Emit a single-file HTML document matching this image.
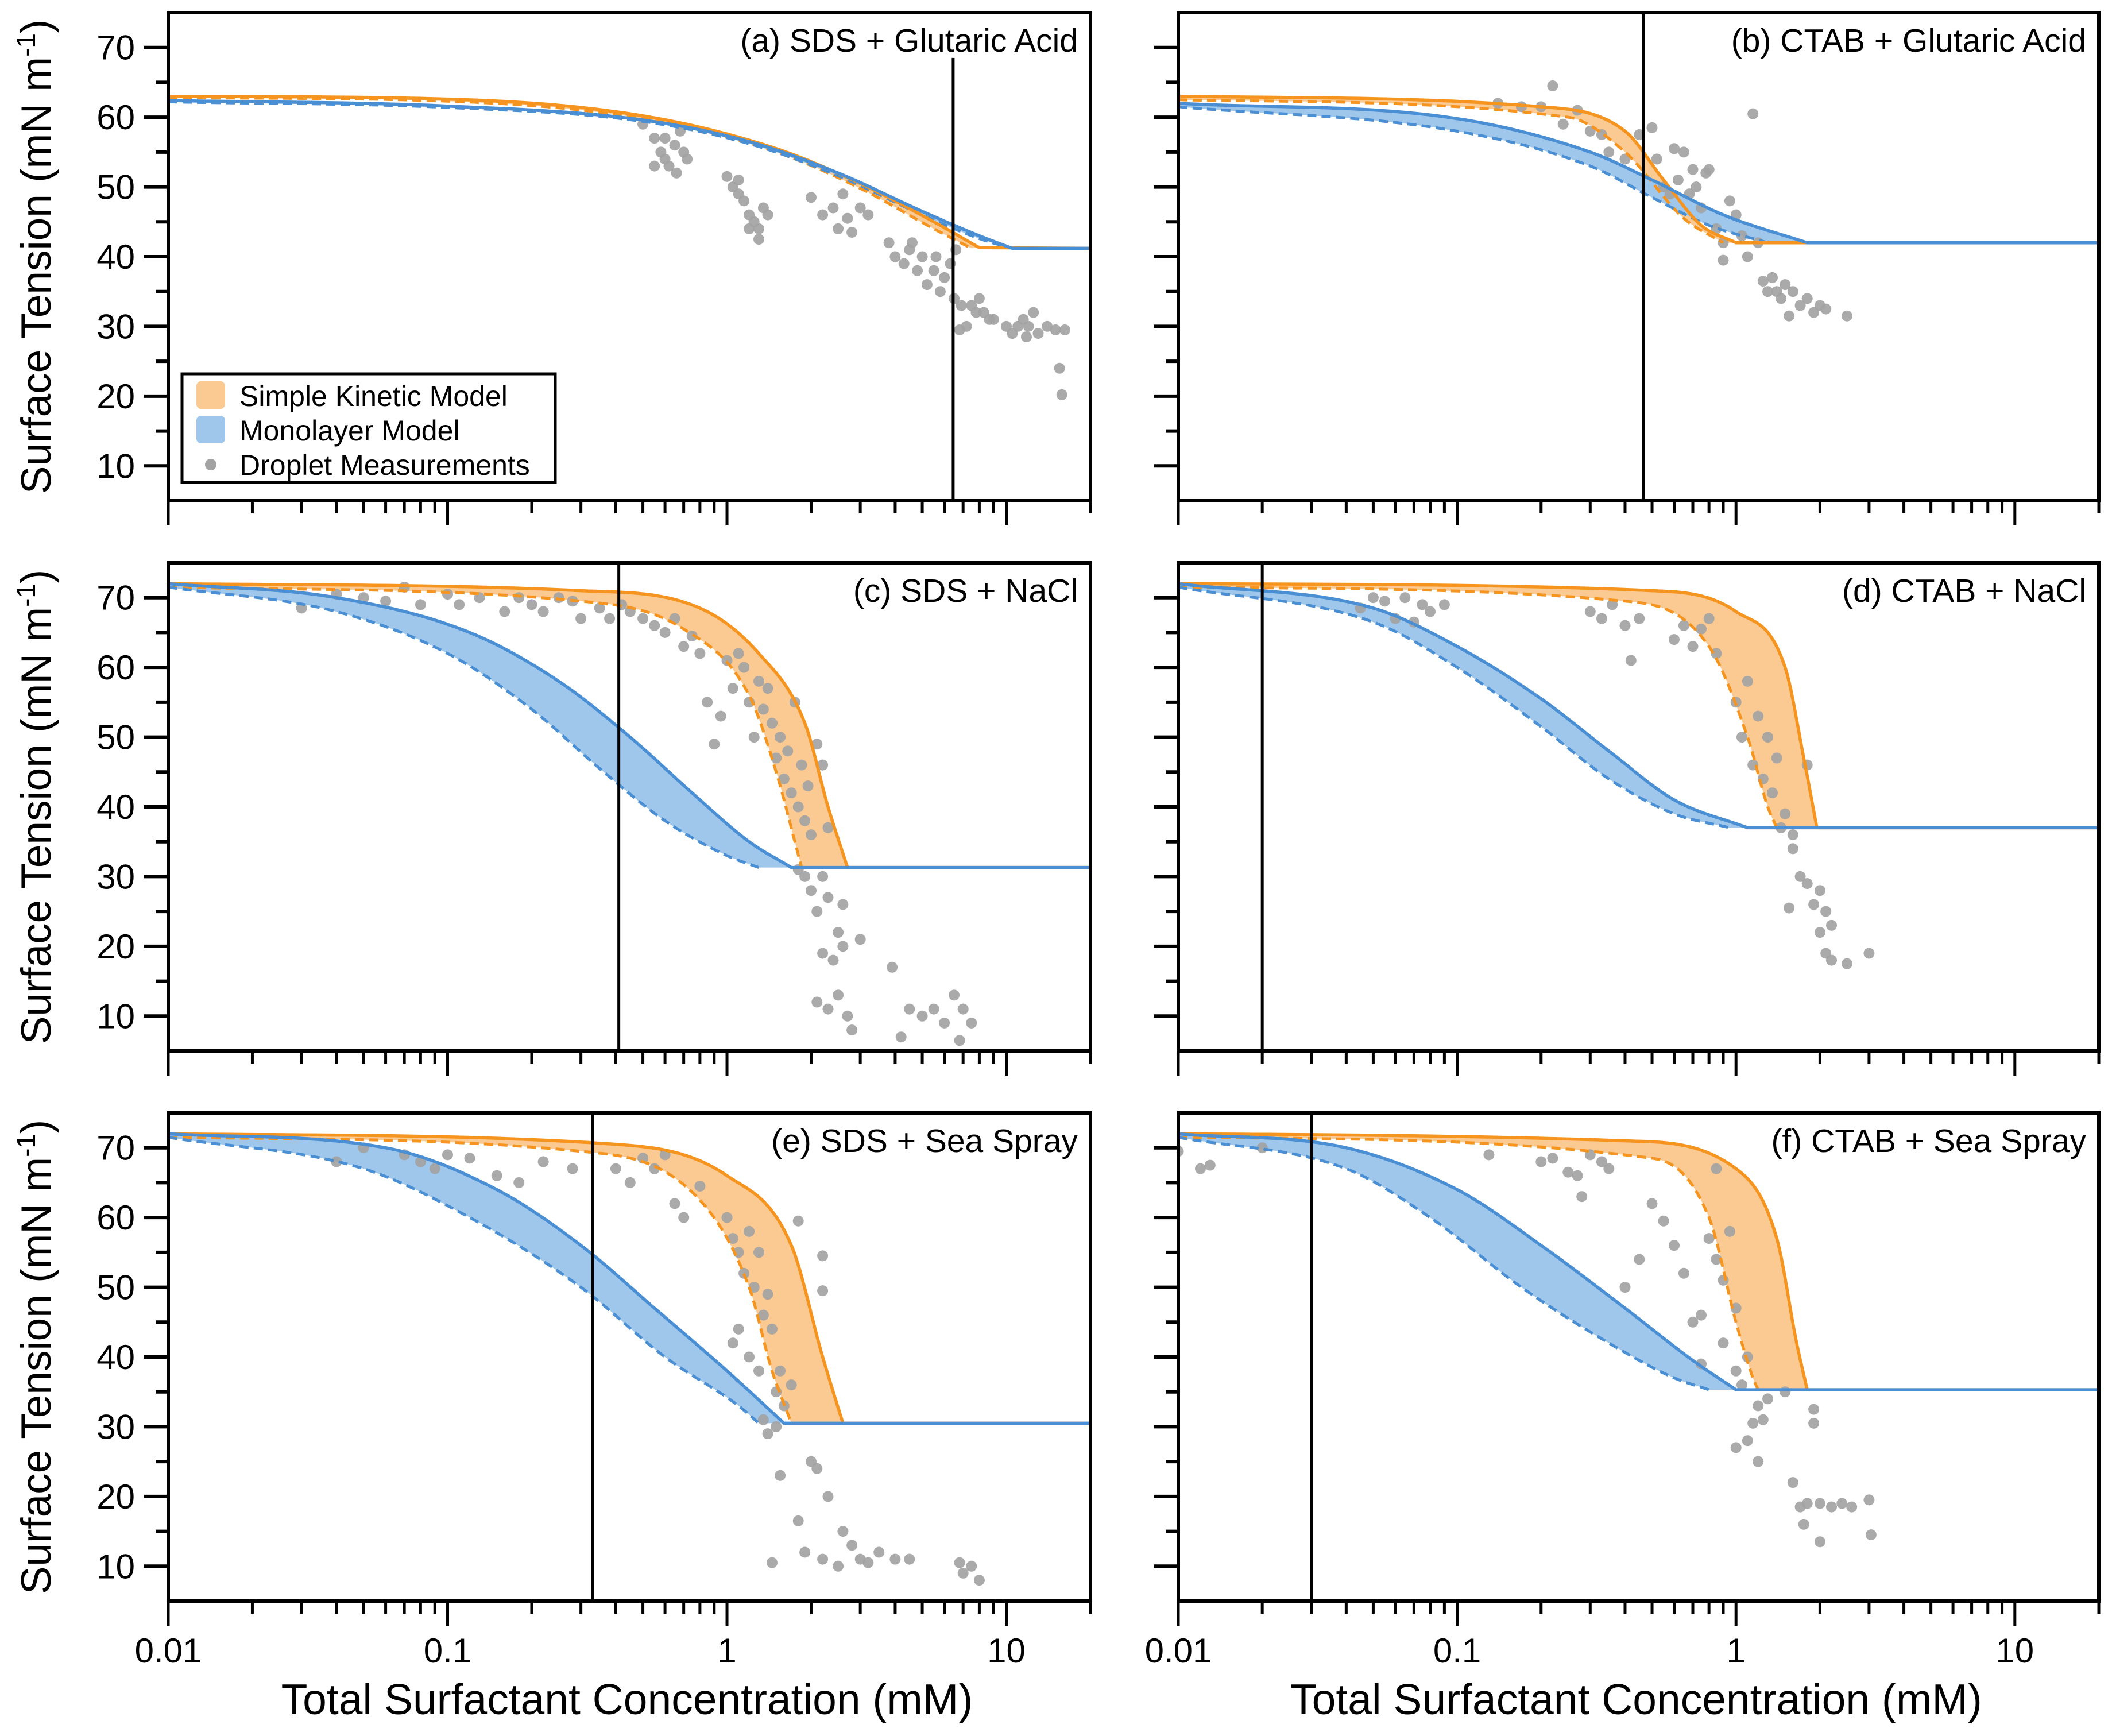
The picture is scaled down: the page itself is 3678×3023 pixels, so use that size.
<!DOCTYPE html>
<html><head><meta charset="utf-8"><style>
html,body{margin:0;padding:0;background:#fff;}
svg text{font-family:"Liberation Sans",Arial,sans-serif;}
</style></head><body>
<svg id="fig" xmlns="http://www.w3.org/2000/svg" width="3678" height="3018" viewBox="0 0 3678 3018"></svg>
<script>
// ---------- data (concentration mM, surface tension mN/m) ----------
const panelTitles = ["(a) SDS + Glutaric Acid","(b) CTAB + Glutaric Acid","(c) SDS + NaCl","(d) CTAB + NaCl","(e) SDS + Sea Spray","(f) CTAB + Sea Spray"];
const verticalLines = [6.45, 0.465, 0.41, 0.02, 0.33, 0.03];
const plateaus = [41.2, 42, 31.3, 37, 30.5, 35.3];
const orangeSolid = [
 [[0.01,63],[0.1,62.6],[0.5,60.2],[1.5,55.5],[3,50.5],[5.5,45],[8,41.3]],
 [[0.01,63],[0.2,61.5],[0.4,58],[0.55,51],[0.75,44.5],[1.0,42]],
 [[0.01,72],[0.3,71],[0.8,68.5],[1.3,62],[1.9,52],[2.3,40],[2.7,31.3]],
 [[0.01,72],[0.5,71],[1.0,68],[1.5,60],[1.75,47],[1.95,37]],
 [[0.01,72],[0.4,70.5],[1.0,66],[1.7,56],[2.2,40],[2.6,30.5]],
 [[0.01,72],[0.4,71],[1.0,67],[1.4,57],[1.65,42],[1.8,35.3]]
];
const orangeDashed = [
 [[0.01,62.8],[0.1,62.3],[0.5,59.8],[1.5,55],[3,49.8],[5.5,44],[7.5,41.2]],
 [[0.01,62.5],[0.25,60],[0.4,55],[0.65,45.5],[0.9,42]],
 [[0.01,71.5],[0.3,69.5],[0.7,65.5],[1.2,56],[1.5,45],[1.75,35],[1.85,31.3]],
 [[0.01,71.5],[0.4,69.5],[0.8,63],[1.1,50],[1.3,40],[1.4,37]],
 [[0.01,71.5],[0.3,69.5],[0.8,62.5],[1.2,50],[1.45,38],[1.7,30.5]],
 [[0.01,71.5],[0.5,68.5],[0.8,60],[1.0,45],[1.15,37],[1.2,35.3]]
];
const blueSolid = [
 [[0.01,62.4],[0.1,61.6],[0.5,59.6],[1.2,56.5],[2.5,52],[5,46.5],[8,43],[10.5,41.2]],
 [[0.01,62],[0.1,59.8],[0.3,55],[0.5,51],[0.9,46],[1.8,42]],
 [[0.01,72],[0.04,70],[0.12,65],[0.25,58],[0.45,50],[0.75,42],[1.2,35],[1.7,31.3]],
 [[0.01,72],[0.05,68.5],[0.1,63],[0.2,55.5],[0.35,48],[0.6,41],[1.1,37]],
 [[0.01,72],[0.06,70],[0.15,64],[0.3,56],[0.55,47],[1.0,38],[1.6,30.5]],
 [[0.01,72],[0.04,70],[0.1,64],[0.2,56],[0.4,47],[0.7,39.5],[1.0,35.3]]
];
const blueDashed = [
 [[0.01,62.2],[0.1,61.4],[0.5,59.4],[1.2,56.2],[2.5,51.6],[5,46],[8,42.6],[10.5,41.2]],
 [[0.01,61.5],[0.1,58],[0.3,53],[0.5,48.5],[0.8,44.5],[1.3,42]],
 [[0.01,71.5],[0.04,68],[0.1,62],[0.2,54],[0.35,45.5],[0.6,38],[1.0,33],[1.3,31.3]],
 [[0.01,71.5],[0.05,66.5],[0.1,60],[0.2,51.5],[0.35,44],[0.6,39],[0.95,37]],
 [[0.01,71.5],[0.05,67],[0.12,60],[0.3,50],[0.6,40],[1.1,33],[1.3,30.5]],
 [[0.01,71.5],[0.04,67],[0.08,60],[0.17,50],[0.35,42],[0.6,37],[0.8,35.3]]
];
const scatterPoints = [
 [[0.5,59],[0.55,57],[0.58,55],[0.6,54],[0.62,53],[0.65,56],[0.66,52],[0.68,58],[0.7,55],[0.72,54],[0.55,53],[0.6,57],
  [1.0,51.5],[1.05,50],[1.1,51],[1.15,48],[1.2,46],[1.25,45],[1.3,44],[1.3,42.5],[1.35,47],[1.4,46],[1.2,44],[1.1,49],
  [2.0,48.5],[2.2,46],[2.4,47],[2.5,44],[2.7,45.5],[2.8,43.5],[3.0,47],[3.2,46],[2.6,49],
  [3.8,42],[4.0,40],[4.3,39],[4.5,41],[4.8,38],[5.0,40],[5.2,36],[5.5,38],[5.8,35],[6.0,37],[4.6,42],[5.6,40],[6.3,39],[6.6,41],
  [6.5,34],[6.9,33],[7.2,30],[7.5,33],[8,34],[8.3,32],[8.7,31],[9,31],[6.8,29.5],[7.8,32],
  [10,30],[10.5,29],[11,30],[11.5,31],[12,30],[12.5,32],[13,29],[14,30],[15,29.5],[11.8,28.5],[15.5,24],[15.8,20.2],[16.2,29.5]],
 [[0.14,62],[0.17,61.5],[0.2,61.5],[0.22,64.5],[0.24,59],[0.27,61],[0.3,58],[0.33,57.5],[0.35,55],[0.4,54],[0.45,57.5],
  [0.5,58.5],[0.52,54],[0.55,50],[0.58,49],[0.6,55.5],[0.62,51],[0.65,55],[0.68,49],[0.7,52.5],[0.72,50],[0.75,47],[0.78,52],[0.8,52.5],
  [0.85,44],[0.9,42],[0.95,48],[1.0,46],[1.05,43],[1.1,40],[1.15,60.5],[0.9,39.5],[1.2,42],
  [1.25,36.5],[1.3,35],[1.35,37],[1.4,35],[1.45,34],[1.5,36],[1.55,31.5],[1.6,35],[1.7,33],[1.8,34],[1.9,32],[2.0,33],[2.1,32.5],[2.5,31.5]],
 [[0.03,68.5],[0.04,70.5],[0.05,70],[0.06,69.5],[0.07,71.5],[0.08,69],[0.1,70.5],[0.11,69],[0.13,70],[0.16,68],[0.18,70],[0.2,69],[0.22,68],[0.25,70],[0.28,69.5],
  [0.3,67],[0.35,68.5],[0.38,67],[0.42,69],[0.45,68],[0.5,67],[0.55,66],[0.6,65],[0.65,67],[0.7,63],[0.75,64.5],[0.8,62],
  [0.85,55],[0.9,49],[0.95,53],[1.0,61],[1.05,57],[1.1,62],[1.15,60],[1.2,55],[1.25,50],[1.3,58],[1.35,54],[1.4,57],[1.45,52],[1.5,47],
  [1.55,50],[1.6,44],[1.65,48],[1.7,42],[1.75,55],[1.8,40],[1.85,46],[1.9,38],[1.95,43],[2.0,36],[2.1,49],[2.2,46],[2.3,37],
  [1.8,31],[1.9,30],[2.0,28],[2.1,25],[2.2,30],[2.3,27],[2.5,22],[2.6,26],[2.2,19],[2.4,18],[2.6,20],
  [2.1,12],[2.3,11],[2.5,13],[2.7,10],[2.8,8],[3.0,21],[3.9,17],[4.2,7],[4.5,11],[5.0,10],[5.5,11],[6.0,9],[6.5,13],[7.0,11],[6.8,6.5],[7.5,9]],
 [[0.045,68.5],[0.05,70],[0.055,69.5],[0.06,67],[0.065,70],[0.07,66.5],[0.075,69],[0.08,68],[0.09,69],
  [0.3,68],[0.33,67],[0.36,69],[0.4,66],[0.42,61],[0.45,67],[0.6,64],[0.65,66],[0.7,63],[0.75,65.5],[0.8,67],[0.85,62],
  [1.0,55],[1.05,50],[1.1,58],[1.15,46],[1.2,53],[1.25,44],[1.3,50],[1.35,42],[1.4,47],[1.45,37],[1.5,39],[1.6,36],[1.8,46],
  [1.6,34],[1.7,30],[1.8,29],[1.9,26],[2.0,28],[2.1,25],[1.55,25.5],[2.0,22],[2.1,19],[2.2,18],[2.5,17.5],[3.0,19],[2.2,23]],
 [[0.04,68],[0.05,70],[0.07,69],[0.08,68],[0.09,67],[0.1,69],[0.12,68.5],[0.15,66],[0.18,65],[0.22,68],[0.28,67],
  [0.4,67],[0.45,65],[0.5,68.5],[0.55,67],[0.6,69],[0.65,62],[0.7,60],[0.8,64.5],
  [1.0,60],[1.05,57],[1.1,55],[1.15,52],[1.2,58],[1.25,50],[1.3,55],[1.35,46],[1.4,49],[1.1,44],[1.05,42],[1.2,40],[1.3,38],
  [1.45,44],[1.5,35],[1.55,38],[1.6,33],[1.7,36],[1.8,59.5],[2.2,54.5],[2.2,49.5],[1.35,31],[1.4,29],[1.5,30],[1.55,23],[1.45,10.5],
  [1.8,16.5],[2.0,25],[2.1,24],[2.3,20],[1.9,12],[2.2,11],[2.5,10],[2.6,15],[2.8,13],[3.0,11],[3.2,10.5],[3.5,12],[4.0,11],[4.5,11],[6.8,10.5],[7.0,9],[7.5,10],[8.0,8]],
 [[0.01,69.5],[0.012,67],[0.013,67.5],[0.02,70],[0.13,69],[0.2,68],[0.22,68.5],[0.25,66.5],[0.27,66],[0.28,63],[0.3,69],[0.33,68],[0.35,67],
  [0.4,50],[0.45,54],[0.5,62],[0.55,59.5],[0.6,56],[0.65,52],[0.7,45],[0.75,46],[0.8,57],[0.85,67],[0.85,54],[0.9,51],[0.95,58],[1.0,47],[0.75,39],
  [0.9,42],[1.0,38],[1.05,36],[1.1,40],[1.15,30.5],[1.2,33],[1.25,31],[1.0,27],[1.1,28],[1.2,25],[1.3,34],[1.5,35],[1.6,22],
  [1.7,18.5],[1.75,16],[1.8,19],[1.9,30.5],[2.0,13.5],[1.9,32.5],[2.0,19],[2.2,18.5],[2.4,19],[2.6,18.5],[3.0,19.5],[3.05,14.5]]
];
const yTicks = [10,20,30,40,50,60,70];
const xTickLabels = ["0.01","0.1","1","10"];
const xTickValues = [0.01,0.1,1,10];

// ---------- layout ----------
const NS="http://www.w3.org/2000/svg";
const svg=document.getElementById('fig');
const colL=[293,2052], colW=[1606,1603];
const rowT=[22,980,1938], rowH=850;
const X0=0.01, X1=20, Y0=5, Y1=75;
const OR="#F5951F", ORF="#FBC992", BL="#4A8FD3", BLF="#9FC7EC";
function el(tag,attrs,parent){const e=document.createElementNS(NS,tag);for(const k in attrs)e.setAttribute(k,attrs[k]);(parent||svg).appendChild(e);return e;}
function smooth(data,xs,ys){
  const X=data.map(q=>Math.log10(q[0])), Y=data.map(q=>q[1]); const n=X.length;
  if(n<2) return data.map(q=>[xs(q[0]),ys(q[1])]);
  const d=[],m=new Array(n);
  for(let i=0;i<n-1;i++) d.push((Y[i+1]-Y[i])/(X[i+1]-X[i]));
  m[0]=d[0]; m[n-1]=d[n-2];
  for(let i=1;i<n-1;i++) m[i]=(d[i-1]*d[i]<=0)?0:(d[i-1]+d[i])/2;
  for(let i=0;i<n-1;i++){
    if(d[i]===0){m[i]=0;m[i+1]=0;continue;}
    const a=m[i]/d[i], b=m[i+1]/d[i], s=a*a+b*b;
    if(s>9){const t=3/Math.sqrt(s); m[i]=t*a*d[i]; m[i+1]=t*b*d[i];}
  }
  const out=[];
  for(let i=0;i<n-1;i++){
    const h=X[i+1]-X[i];
    for(let k=0;k<30;k++){
      const t=k/30, t2=t*t, t3=t2*t;
      const y=(2*t3-3*t2+1)*Y[i]+(t3-2*t2+t)*h*m[i]+(-2*t3+3*t2)*Y[i+1]+(t3-t2)*h*m[i+1];
      out.push([xs(Math.pow(10,X[i]+t*h)),ys(y)]);
    }
  }
  out.push([xs(data[n-1][0]),ys(data[n-1][1])]);
  return out;
}
function poly(pts){return "M"+pts.map(p=>p[0].toFixed(1)+","+p[1].toFixed(1)).join(" L");}

for(let p=0;p<6;p++){
  const c=p%2, r=Math.floor(p/2);
  const L=colL[c], W=colW[c], T=rowT[r];
  const xs=v=>L+(Math.log10(v)-Math.log10(X0))/(Math.log10(X1)-Math.log10(X0))*W;
  const ys=v=>T+(Y1-v)/(Y1-Y0)*rowH;
  const g=el('g',{});
  
  
  const clipId='clip'+p;
  const cp=el('clipPath',{id:clipId},g); el('rect',{x:L,y:T,width:W,height:rowH},cp);
  const plot=el('g',{'clip-path':'url(#'+clipId+')'},g);
  const oS=smooth(orangeSolid[p],xs,ys), oD=smooth(orangeDashed[p],xs,ys), bS=smooth(blueSolid[p],xs,ys), bD=smooth(blueDashed[p],xs,ys);
  const ob=el('path',{d:poly(oS.concat(oD.slice().reverse()))+" Z",fill:ORF,stroke:'none'},plot);
  
  
  const bb=el('path',{d:poly(bS.concat(bD.slice().reverse()))+" Z",fill:BLF,stroke:'none'},plot);
  
  
  for(const q of scatterPoints[p]){
    const dot=el('circle',{cx:xs(q[0]).toFixed(1),cy:ys(q[1]).toFixed(1),r:9.5,fill:'#A3A3A3',opacity:0.92},plot);
    
    
  }
  const plat=ys(plateaus[p]);
  const l1=el('path',{d:poly(oD),fill:'none',stroke:OR,'stroke-width':5,'stroke-dasharray':'16,9'},plot);
  
  
  const l2=el('path',{d:poly(bD),fill:'none',stroke:BL,'stroke-width':5,'stroke-dasharray':'16,9'},plot);
  
  
  const l3=el('path',{d:poly(oS)+" L"+xs(X1)+","+plat,fill:'none',stroke:OR,'stroke-width':5.5},plot);
  
  
  const l4=el('path',{d:poly(bS)+" L"+xs(X1)+","+plat,fill:'none',stroke:BL,'stroke-width':5.5},plot);
  
  
  const vx=xs(verticalLines[p]);
  const vl=el('line',{x1:vx,x2:vx,y1:p===0?ys(68.5):T,y2:T+rowH,stroke:'#000','stroke-width':5},g);
  
  
  const fr=el('rect',{x:L,y:T,width:W,height:rowH,fill:'none',stroke:'#000','stroke-width':6},g);
  
  
  for(let v=10;v<=70;v+=5){
    const major=v%10===0;
    el('line',{x1:L-(major?43:22),x2:L,y1:ys(v),y2:ys(v),stroke:'#000','stroke-width':6},g);
  }
  if(c===0){
    for(const v of yTicks){
      const t=el('text',{x:L-58,y:ys(v)+21,'font-size':60,'text-anchor':'end',fill:'#000'},g);
      t.textContent=v;
      
      
    }
    const yt=el('text',{x:0,y:0,'font-size':73,'text-anchor':'middle',fill:'#000',transform:'translate(88,'+(T+rowH/2)+') rotate(-90)'},g);
    yt.innerHTML='Surface Tension (mN m<tspan dy="-27" font-size="46">-1</tspan><tspan dy="27">)</tspan>';
    
    
  }
  for(let e=-2;e<=1;e++){
    for(let m=1;m<=9;m++){
      const v=m*Math.pow(10,e); if(v>X1) break;
      el('line',{x1:xs(v),x2:xs(v),y1:T+rowH,y2:T+rowH+(m===1?43:22),stroke:'#000','stroke-width':5},g);
    }
  }
  el('line',{x1:xs(20),x2:xs(20),y1:T+rowH,y2:T+rowH+22,stroke:'#000','stroke-width':5},g);
  if(r===2){
    xTickValues.forEach((v,i)=>{
      const t=el('text',{x:xs(v),y:2895,'font-size':60,'text-anchor':'middle',fill:'#000'},g);
      t.textContent=xTickLabels[i];
      
      
    });
    const xt=el('text',{x:L+W/2-4,y:2985,'font-size':75,'text-anchor':'middle',fill:'#000'},g);
    xt.textContent='Total Surfactant Concentration (mM)';
    
    
  }
  const pt=el('text',{x:L+W-22,y:T+68,'font-size':57,'text-anchor':'end',fill:'#000'},g);
  pt.textContent=panelTitles[p];
  
  
}
const lg=el('g',{});


el('rect',{x:317,y:651,width:650,height:189,fill:'#fff',stroke:'#000','stroke-width':5},lg);
el('rect',{x:342,y:664,width:50,height:48,rx:8,fill:ORF},lg);
el('rect',{x:342,y:724,width:50,height:48,rx:8,fill:BLF},lg);
el('circle',{cx:367,cy:809,r:10,fill:'#A3A3A3'},lg);
const legTexts=["Simple Kinetic Model","Monolayer Model","Droplet Measurements"];
legTexts.forEach((s,i)=>{
  const t=el('text',{x:417,y:707+i*60,'font-size':50,fill:'#000'},lg);
  t.textContent=s;
  
  
});
</script>
</body></html>
